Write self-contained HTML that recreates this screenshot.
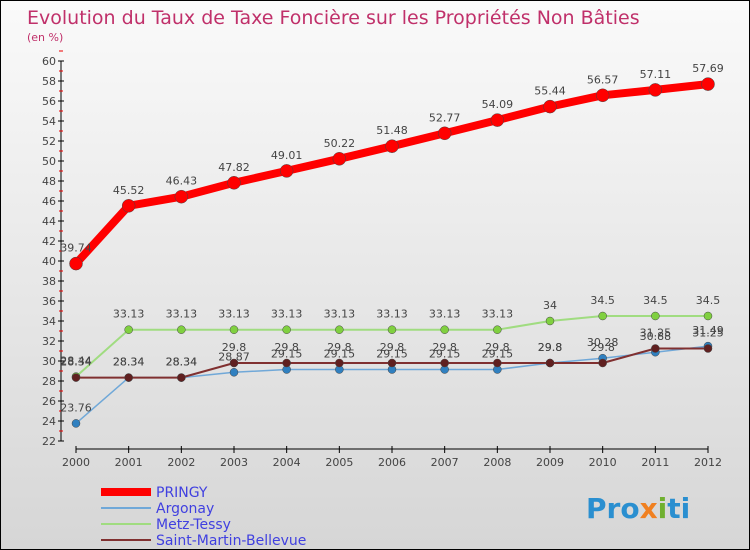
<!DOCTYPE html>
<html><head><meta charset="utf-8"><style>
body{margin:0;}
#c{position:relative;width:750px;height:550px;box-sizing:border-box;border:1px solid #000;background:linear-gradient(#fafafa,#d6d6d6);font-family:"DejaVu Sans","Liberation Sans",sans-serif;overflow:hidden}
</style></head><body>
<div id="c">
<svg id="s" width="750" height="550" style="position:absolute;left:0;top:0">
<text x="26" y="23" font-size="19" fill="#c0306a">Evolution du Taux de Taxe Foncière sur les Propriétés Non Bâties</text>
<text x="26" y="40" font-size="11" fill="#c0306a">(en %)</text>
<text x="585" y="517" font-size="28" font-weight="bold" fill="#2a8fd0">Pro<tspan fill="#f08020">x</tspan><tspan fill="#70b030">i</tspan>ti</text>
</svg>
</div>
<script>
const years=[2000,2001,2002,2003,2004,2005,2006,2007,2008,2009,2010,2011,2012];
const pringy=[39.74,45.52,46.43,47.82,49.01,50.22,51.48,52.77,54.09,55.44,56.57,57.11,57.69];
const argonay=[23.76,28.34,28.34,28.87,29.15,29.15,29.15,29.15,29.15,29.8,30.28,30.88,31.49];
const metz=[28.44,33.13,33.13,33.13,33.13,33.13,33.13,33.13,33.13,34,34.5,34.5,34.5];
const stmartin=[28.34,28.34,28.34,29.8,29.8,29.8,29.8,29.8,29.8,29.8,29.8,31.25,31.25];
const yTicks=[22,24,26,28,30,32,34,36,38,40,42,44,46,48,50,52,54,56,58,60];
const NS="http://www.w3.org/2000/svg",s=document.getElementById('s');
const X=i=>75+i*(632/12), Y=v=>60+(60-v)*10;
function el(t,a,p){const e=document.createElementNS(NS,t);for(const k in a)e.setAttribute(k,a[k]);(p||s).appendChild(e);return e;}
let e=el('line',{x1:60,y1:60,x2:60,y2:440,stroke:'#000','stroke-width':1});


e=el('line',{x1:75,y1:448,x2:707,y2:448,stroke:'#000','stroke-width':1});


yTicks.forEach(v=>{
 el('line',{x1:57,x2:63,y1:Y(v),y2:Y(v),stroke:'#000'});
 el('line',{x1:58,x2:62,y1:Y(v+1),y2:Y(v+1),stroke:'#e00'});
 const t=el('text',{x:55,y:Y(v)+4,'text-anchor':'end','font-size':11,fill:'#444'});t.textContent=v;
 
 
});
years.forEach((y,i)=>{
 el('line',{x1:X(i),x2:X(i),y1:445,y2:452,stroke:'#000'});
 const t=el('text',{x:X(i),y:465,'text-anchor':'middle','font-size':11,fill:'#444'});t.textContent=y;
 
 
});
function series(d,col,w,r,name,fill){
 const g=el('g',{});
 
 
 el('polyline',{points:d.map((v,i)=>X(i)+','+Y(v)).join(' '),fill:'none',stroke:col,'stroke-width':w,'stroke-linejoin':'round'},g);
 d.forEach((v,i)=>{
  const c=el('circle',{cx:X(i),cy:Y(v),r:r,fill:fill,stroke:'#444','stroke-width':0.5},g);
  
  
  const t=el('text',{x:X(i),y:Y(v)-12,'text-anchor':'middle','font-size':11,fill:'#444'},g);t.textContent=v;
  
  
 });
}
series(metz,'#a0dc80',2,4,'metz-tessy','#80d040');
series(argonay,'#70a8d8',1.5,4,'argonay','#3080c0');
series(stmartin,'#803030',2,4,'saint-martin-bellevue','#602020');
series(pringy,'#f00',8,6.5,'pringy','#f00');
const legend=[['PRINGY','#f00',8],['Argonay','#70a8d8',2],['Metz-Tessy','#a0dc80',2],['Saint-Martin-Bellevue','#803030',2]];
legend.forEach((l,i)=>{
 const y=491+i*16;
 const g=el('g',{});
 
 
 el('line',{x1:100,x2:150,y1:y,y2:y,stroke:l[1],'stroke-width':l[2]},g);
 const t=el('text',{x:155,y:y+5,'font-size':14,fill:'#4040e0'},g);t.textContent=l[0];
});
</script>
</body></html>
